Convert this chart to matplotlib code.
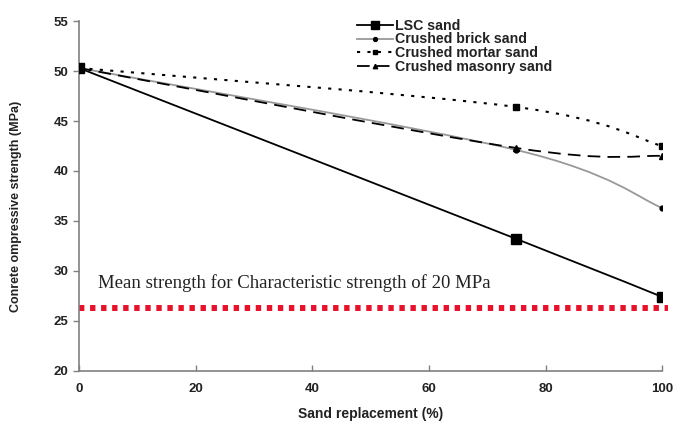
import numpy as np
import matplotlib
matplotlib.use("Agg")
import matplotlib.pyplot as plt
from matplotlib.path import Path
from matplotlib.patches import PathPatch
from matplotlib.lines import Line2D

# data
replacement = [0, 75, 100]
lsc_sand = [50.3, 33.2, 27.4]
brick_sand = [50.3, 42.1, 36.3]
mortar_sand = [50.3, 46.4, 42.5]
masonry_sand = [50.3, 42.3, 41.5]
mean_strength = 26.3
labels = ["LSC sand", "Crushed brick sand", "Crushed mortar sand", "Crushed masonry sand"]

plt.rcParams['font.family'] = ['Liberation Sans', 'DejaVu Sans']

fig = plt.figure(figsize=(6.77, 4.21), dpi=100)
ax = fig.add_axes([0.1167, 0.119, 0.8615, 0.831])


def smooth_path(x, y):
    # excel-like smoothed line as cubic bezier segments
    p = np.column_stack([x, y]).astype(float)
    pts = np.vstack([p[0], p, p[-1]])
    verts = [p[0]]
    codes = [Path.MOVETO]
    for k in range(1, len(pts) - 2):
        c1 = pts[k] + (pts[k + 1] - pts[k - 1]) / 6
        c2 = pts[k + 1] - (pts[k + 2] - pts[k]) / 6
        verts += [c1, c2, pts[k + 1]]
        codes += [Path.CURVE4] * 3
    return Path(verts, codes)


series = [
    (lsc_sand, dict(color="black", lw=1.3, ls="-"), dict(marker="s", ms=7, color="black")),
    (brick_sand, dict(color="#999999", lw=1.3, ls="-"), dict(marker="o", ms=3.5, color="black")),
    (mortar_sand, dict(color="black", lw=1.5, ls=(0, (1.5, 3.5))), dict(marker="s", ms=4, color="black")),
    (masonry_sand, dict(color="black", lw=1.3, ls=(0, (7, 4))), dict(marker="^", ms=4, color="black")),
]

handles = []
for vals, lstyle, mstyle in series:
    patch = PathPatch(smooth_path(replacement, vals), fill=False, edgecolor=lstyle["color"],
                      lw=lstyle["lw"], ls=lstyle["ls"], capstyle="butt")
    ax.add_patch(patch)
    ax.plot(replacement, vals, ls="none", marker=mstyle["marker"], ms=mstyle["ms"],
            color=mstyle["color"], zorder=3)
    handles.append(Line2D([], [], color=lstyle["color"], lw=lstyle["lw"], ls=lstyle["ls"],
                          marker=mstyle["marker"], ms=mstyle["ms"] * 0.8,
                          mfc=mstyle["color"], mec=mstyle["color"]))

ax.plot([0, 101], [mean_strength, mean_strength], color="#e8102a", lw=4.3,
        ls=(0, (0.9, 0.95)), clip_on=False, zorder=2)
ax.text(3.3, 28.3, "Mean strength for Characteristic strength of 20 MPa",
        family="Liberation Serif", fontsize=13.5, color="#222222")

ax.set_xlim(0, 100)
ax.set_ylim(20, 55)
ax.set_xticks(range(0, 101, 20))
ax.set_yticks(range(20, 56, 5))
for side in ["top", "right"]:
    ax.spines[side].set_visible(False)
for side in ["left", "bottom"]:
    ax.spines[side].set_color("#808080")
    ax.spines[side].set_linewidth(1.2)
ax.tick_params(colors="#808080", length=4, width=1.0, labelcolor="#222222", labelsize=9.5)
ax.tick_params(axis="x", direction="in", pad=9)
for lbl in ax.get_xticklabels() + ax.get_yticklabels():
    lbl.set_fontweight("bold")

ax.set_xlabel("Sand replacement (%)", fontsize=10, fontweight="bold", color="#222222", labelpad=8)
ax.set_ylabel("Conrete ompressive strength (MPa)", fontsize=9, fontweight="bold",
              color="#222222")
ax.yaxis.set_label_coords(-0.098, 0.469)

leg = ax.legend(handles, labels, loc="upper left", bbox_to_anchor=(0.455, 1.043),
                frameon=False, handlelength=2.5, handletextpad=0.2, labelspacing=-0.02,
                prop=dict(weight="bold", size=10.2))
for t in leg.get_texts():
    t.set_color("#222222")

fig.savefig("out.png", dpi=100)
